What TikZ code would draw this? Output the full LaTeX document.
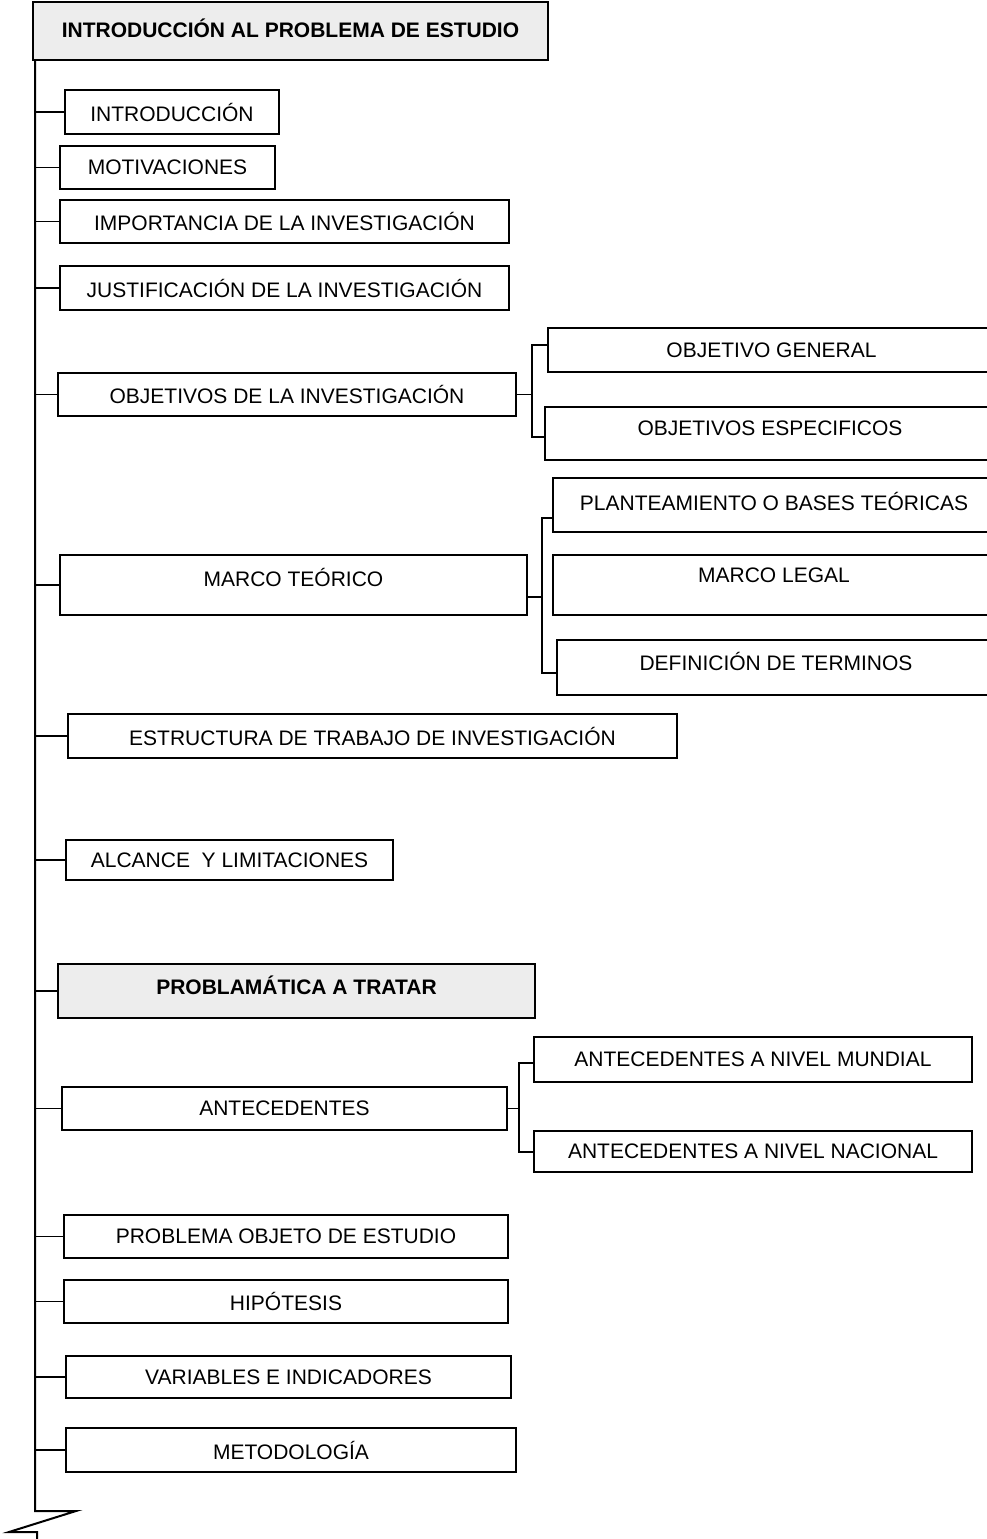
\documentclass[tikz,border=0pt]{standalone}
\usepackage{fontspec}
\setmainfont{Liberation Sans}
\tikzset{
  x=1pt, y=-1pt,
  box/.style={draw, line width=1.7pt, rectangle, inner sep=0pt, fill=white},
  grey/.style={box, fill=black!7},
  conn/.style={line width=1.4pt},
  trunkline/.style={line width=2pt, line join=miter},
  lbl/.style={font=\fontsize{21}{25}\selectfont, inner sep=0pt},
  blbl/.style={font=\fontsize{21}{25}\selectfont\bfseries, inner sep=0pt}
}
% #1 text shift up (px), #2 name, #3..#6 x1 y1 x2 y2, #7 text
\newcommand\bx[7][0]{%
  \node[box, minimum width={#5pt-#3pt}, minimum height={#6pt-#4pt},
        label={[lbl,yshift=#1pt]center:#7}] (#2) at ({(#3+#5)/2},{(#4+#6)/2}) {};}
\newcommand\gbx[7][0]{%
  \node[grey, minimum width={#5pt-#3pt}, minimum height={#6pt-#4pt},
        label={[blbl,yshift=#1pt]center:#7}] (#2) at ({(#3+#5)/2},{(#4+#6)/2}) {};}
\begin{document}
\begin{tikzpicture}
\useasboundingbox (0,0) rectangle (987,1539);
\coordinate (tr) at (35,0);

% header
\gbx[3]{hdr}{33}{2}{548}{60}{INTRODUCCIÓN AL PROBLEMA DE ESTUDIO}

% left column
\bx{intro}{65}{90}{279}{134}{INTRODUCCIÓN}
\bx{motiv}{60}{146}{275}{189}{MOTIVACIONES}
\bx{impor}{60}{200}{509}{243}{IMPORTANCIA DE LA INVESTIGACIÓN}
\bx{justi}{60}{266}{509}{310}{JUSTIFICACIÓN DE LA INVESTIGACIÓN}
\bx{objin}{58}{373}{516}{416}{OBJETIVOS DE LA INVESTIGACIÓN}
\bx[8]{marco}{60}{555}{527}{615}{MARCO TEÓRICO}
\bx{estr}{68}{714}{677}{758}{ESTRUCTURA DE TRABAJO DE INVESTIGACIÓN}
\bx{alc}{66}{840}{393}{880}{ALCANCE\ \ Y LIMITACIONES}
\gbx[6]{prob}{58}{964}{535}{1018}{PROBLAMÁTICA A TRATAR}
\bx{ant}{62}{1087}{507}{1130}{ANTECEDENTES}
\bx{poe}{64}{1215}{508}{1258}{PROBLEMA OBJETO DE ESTUDIO}
\bx{hip}{64}{1280}{508}{1323}{HIPÓTESIS}
\bx{var}{66}{1356}{511}{1398}{VARIABLES E INDICADORES}
\bx{met}{66}{1428}{516}{1472}{METODOLOGÍA}

% right column
\bx{og}{548}{328}{995}{372}{OBJETIVO GENERAL}
\bx[5.5]{oe}{545}{407}{995}{460}{OBJETIVOS ESPECIFICOS}
\bx[4]{pl}{553}{478}{995}{532}{PLANTEAMIENTO O BASES TEÓRICAS}
\bx[10]{ml}{553}{555}{995}{615}{MARCO LEGAL}
\bx[6.5]{dt}{557}{640}{995}{695}{DEFINICIÓN DE TERMINOS}
\bx{am}{534}{1037}{972}{1082}{ANTECEDENTES A NIVEL MUNDIAL}
\bx{an}{534}{1131}{972}{1172}{ANTECEDENTES A NIVEL NACIONAL}

% trunk with break symbol
\coordinate (tb) at (35,1511);
\coordinate (z1) at (76,1511);
\coordinate (z2) at (9,1532);
\coordinate (z3) at (37,1532);
\coordinate (z4) at (37,1545);
\draw[trunkline] (hdr.south -| tr) -- (tb) -- (z1) -- (z2) -- (z3) -- (z4);

% branches from trunk
\foreach \n in {intro,motiv,impor,justi,objin,marco,estr,alc,prob,ant,poe,hip,var,met}
  \draw[conn] (\n.west) -- (\n.west -| tr);

% bracket: objetivos
\coordinate (b1t) at (532,345);
\coordinate (b1b) at (532,437);
\draw[conn] (og.west |- b1t) -- (b1t) -- (b1b) -- (oe.west |- b1b);
\draw[conn] (objin.east) -- (objin.east -| b1t);

% bracket: marco teorico
\coordinate (b2t) at (542,518);
\coordinate (b2b) at (542,673);
\coordinate (b2m) at (542,597);
\draw[conn] (pl.west |- b2t) -- (b2t) -- (b2b) -- (dt.west |- b2b);
\draw[conn] (b2m) -- (marco.east |- b2m);

% bracket: antecedentes
\coordinate (b3t) at (519,1063);
\coordinate (b3b) at (519,1152);
\draw[conn] (am.west |- b3t) -- (b3t) -- (b3b) -- (an.west |- b3b);
\draw[conn] (ant.east) -- (ant.east -| b3t);
\end{tikzpicture}
\end{document}
